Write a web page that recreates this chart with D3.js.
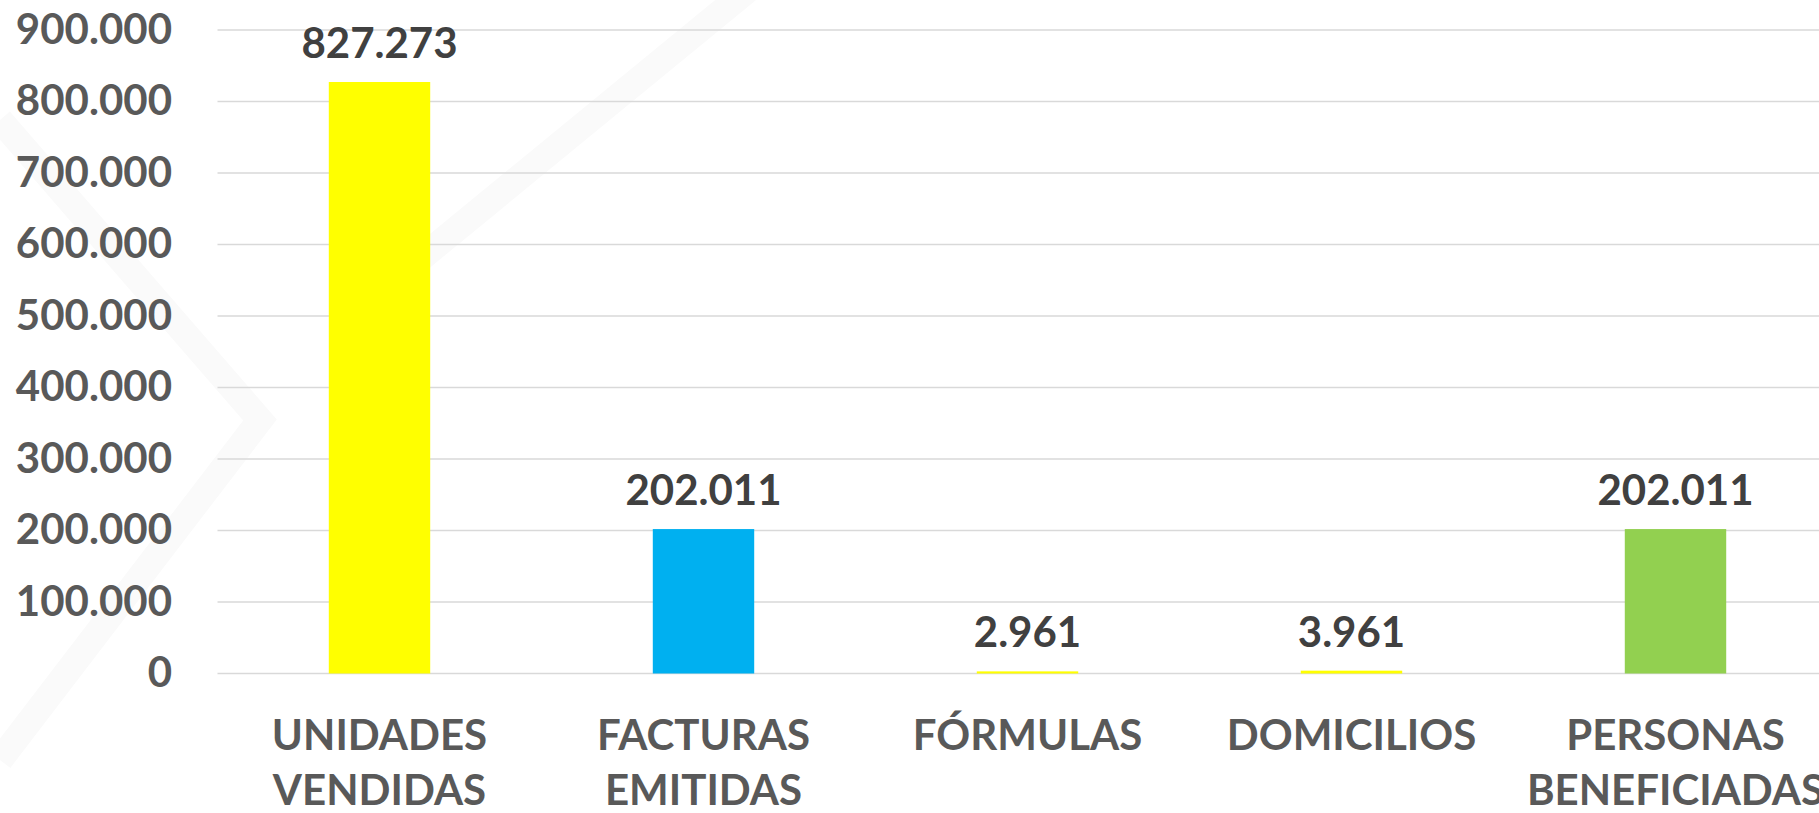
<!DOCTYPE html>
<html>
<head>
<meta charset="utf-8">
<script src="https://cdn.jsdelivr.net/npm/d3@7"></script>
<style>
  body { margin: 0; background: #fff; overflow: hidden; }
  text { font-family: Lato, "Open Sans", sans-serif; font-weight: bold; }
</style>
</head>
<body>
<div id="chart"></div>
<script>
var categories = ["UNIDADES VENDIDAS", "FACTURAS EMITIDAS", "FÓRMULAS", "DOMICILIOS", "PERSONAS BENEFICIADAS"];
var values = [827273, 202011, 2961, 3961, 202011];
var barColours = ["#FFFF00", "#00B0F0", "#FFFF00", "#FFFF00", "#92D050"];
var tickValues = [0, 100000, 200000, 300000, 400000, 500000, 600000, 700000, 800000, 900000];

var w = 1819;
var h = 813;

var svg = d3.select("#chart")
  .append("svg")
  .attr("width", w)
  .attr("height", h);

// very faint watermark shapes in the background
var wm = svg.append("g")
  .attr("fill", "none")
  .attr("stroke", "#fafafa")
  .attr("stroke-width", 26);
wm.append("path").attr("d", "M 0 120 L 260 420 L 0 760");
wm.append("path").attr("d", "M 370 300 L 760 -20");

// x: five bands, plot runs a bit past the right edge like the original
var x = d3.scaleBand()
  .domain(categories)
  .range([217.5, 1837.5])
  .paddingInner(0.687)
  .paddingOuter(0.3435);

var y = d3.scaleLinear()
  .domain([0, 900000])
  .range([673.5, 30]);

var fmt = function(v) {
  return d3.format(",")(v).replace(/,/g, ".");
};

// gridlines
svg.append("g")
  .selectAll("line")
  .data(tickValues)
  .enter()
  .append("line")
  .attr("x1", 217.5)
  .attr("x2", w)
  .attr("y1", function(d) { return y(d); })
  .attr("y2", function(d) { return y(d); })
  .attr("stroke", "#d9d9d9")
  .attr("stroke-width", 1.5);

// y axis labels
var yAxis = d3.axisLeft(y)
  .tickValues(tickValues)
  .tickSize(0)
  .tickPadding(0)
  .tickFormat(fmt);

var yg = svg.append("g")
  .attr("transform", "translate(172,0)")
  .call(yAxis);
yg.select(".domain").remove();
yg.selectAll("text")
  .attr("fill", "#595959")
  .style("font-size", "42px")
  .style("font-family", "Lato, sans-serif")
  .style("font-weight", "bold");

// bars
svg.append("g")
  .selectAll("rect")
  .data(values)
  .enter()
  .append("rect")
  .attr("x", function(d, i) { return x(categories[i]); })
  .attr("y", function(d) { return y(d); })
  .attr("width", x.bandwidth())
  .attr("height", function(d) { return y(0) - y(d); })
  .attr("fill", function(d, i) { return barColours[i]; });

// value labels
svg.append("g")
  .selectAll("text")
  .data(values)
  .enter()
  .append("text")
  .attr("x", function(d, i) { return x(categories[i]) + x.bandwidth() / 2; })
  .attr("y", function(d) { return y(d) - 24; })
  .attr("text-anchor", "middle")
  .attr("fill", "#404040")
  .style("font-size", "42px")
  .text(fmt);

// category labels, split over two lines
var cat = svg.append("g")
  .selectAll("text")
  .data(categories)
  .enter()
  .append("text")
  .attr("text-anchor", "middle")
  .attr("fill", "#595959")
  .style("font-size", "42px");

cat.each(function(d) {
  var t = d3.select(this);
  var cx = x(d) + x.bandwidth() / 2;
  d.split(" ").forEach(function(word, k) {
    t.append("tspan")
      .attr("x", cx)
      .attr("y", 750 + k * 55)
      .text(word);
  });
});
</script>
</body>
</html>
